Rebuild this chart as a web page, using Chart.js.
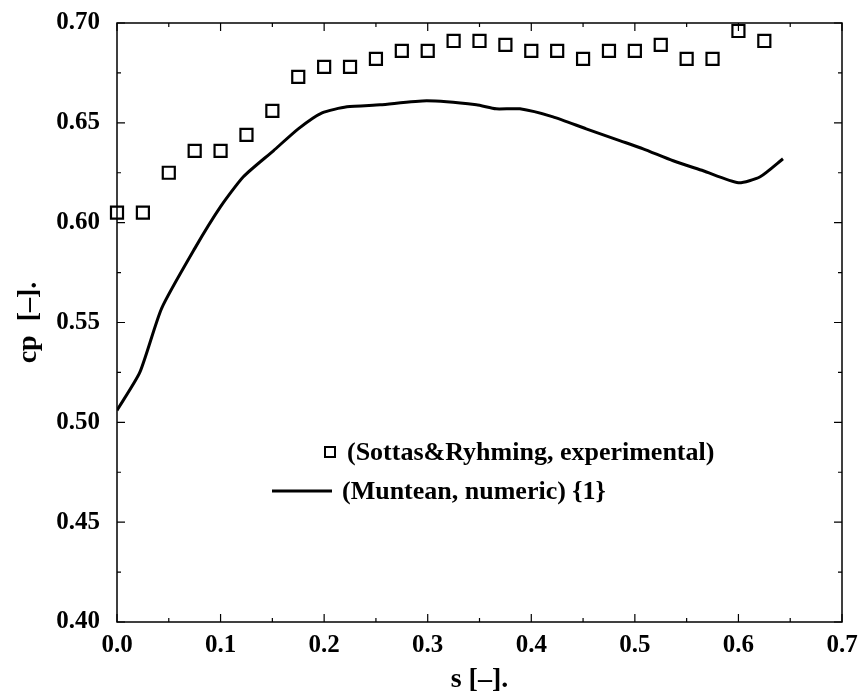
<!DOCTYPE html>
<html>
<head>
<meta charset="utf-8">
<script src="https://cdn.jsdelivr.net/npm/chart.js@4.4.0/dist/chart.umd.min.js"></script>
<style>
  html,body{margin:0;padding:0;background:#fff;}
  #wrap{width:860px;height:691px;}
</style>
</head>
<body>
<div id="wrap"><canvas id="c" width="860" height="691"></canvas></div>
<script>
// experimental points (Sottas & Ryhming)
const expS  = [0.000,0.025,0.050,0.075,0.100,0.125,0.150,0.175,0.200,0.225,0.250,0.275,0.300,
               0.325,0.350,0.375,0.400,0.425,0.450,0.475,0.500,0.525,0.550,0.575,0.600,0.625];
const expCp = [0.605,0.605,0.625,0.636,0.636,0.644,0.656,0.673,0.678,0.678,0.682,0.686,0.686,
               0.691,0.691,0.689,0.686,0.686,0.682,0.686,0.686,0.689,0.682,0.682,0.696,0.691];
// numeric curve (Muntean)
const numS  = [0.000,0.022,0.043,0.075,0.100,0.122,0.151,0.175,0.198,0.222,0.254,0.299,0.347,
               0.366,0.389,0.421,0.453,0.486,0.508,0.537,0.566,0.600,0.621,0.643];
const numCp = [0.506,0.525,0.557,0.587,0.608,0.623,0.636,0.647,0.655,0.658,0.659,0.661,0.659,
               0.657,0.657,0.653,0.647,0.641,0.637,0.631,0.626,0.620,0.623,0.632];
const xTicks = [0.0,0.1,0.2,0.3,0.4,0.5,0.6,0.7];
const yTicks = [0.40,0.45,0.50,0.55,0.60,0.65,0.70];
const labels = ["(Sottas&Ryhming, experimental)", "(Muntean, numeric) {1}"];

const serif = "'Liberation Serif','DejaVu Serif',serif";

const frame = {
  id:"frame",
  afterDraw(chart){
    const ctx = chart.ctx, a = chart.chartArea;
    const xs = chart.scales.x, ys = chart.scales.y;
    ctx.save();
    ctx.strokeStyle = "#000";
    ctx.lineWidth = 1.5;
    ctx.strokeRect(a.left, a.top, a.right - a.left, a.bottom - a.top);
    ctx.lineWidth = 1.2;
    ctx.beginPath();
    for(let v = 0; v <= 0.7001; v += 0.05){
      const px = xs.getPixelForValue(v);
      const len = Math.abs(v*10 - Math.round(v*10)) < 1e-6 ? 8 : 4;
      ctx.moveTo(px, a.bottom); ctx.lineTo(px, a.bottom - len);
      ctx.moveTo(px, a.top); ctx.lineTo(px, a.top + len);
    }
    for(let v = 0.4; v <= 0.7001; v += 0.025){
      const py = ys.getPixelForValue(v);
      const len = Math.abs(v*20 - Math.round(v*20)) < 1e-6 ? 8 : 4;
      ctx.moveTo(a.left, py); ctx.lineTo(a.left + len, py);
      ctx.moveTo(a.right, py); ctx.lineTo(a.right - len, py);
    }
    ctx.stroke();

    // legend inside the plot
    ctx.font = "bold 26px " + serif;
    ctx.fillStyle = "#000";
    ctx.textBaseline = "middle";
    ctx.lineWidth = 2;
    ctx.strokeRect(325, 447, 10, 10);
    ctx.fillText(chart.data.datasets[0].label, 347, 453);
    ctx.lineWidth = 3;
    ctx.beginPath(); ctx.moveTo(272, 491); ctx.lineTo(332, 491); ctx.stroke();
    ctx.fillText(chart.data.datasets[1].label, 342, 492);
    ctx.restore();
  }
};

new Chart(document.getElementById("c").getContext("2d"), {
  type:"scatter",
  data:{ datasets:[
    { label:labels[0], data:expS.map((s,i)=>({x:s, y:expCp[i]})),
      pointStyle:"rect", pointRadius:8.5, pointBorderWidth:2.2, borderColor:"#000",
      backgroundColor:"rgba(0,0,0,0)", showLine:false, clip:false },
    { label:labels[1], data:numS.map((s,i)=>({x:s, y:numCp[i]})),
      showLine:true, pointRadius:0, borderColor:"#000", borderWidth:3, tension:0.2 }
  ]},
  options:{
    responsive:false, animation:false,
    layout:{ padding:{ top:23, right:18, left:0, bottom:0 } },
    plugins:{ legend:{ display:false }, tooltip:{ enabled:false } },
    scales:{
      x:{
        type:"linear", min:0, max:0.7,
        afterBuildTicks(s){ s.ticks = xTicks.map(v=>({value:v})); },
        afterFit(s){ s.height = 69; s.paddingLeft = 0; s.paddingRight = 0; },
        grid:{ display:false, drawTicks:false },
        border:{ display:false },
        ticks:{ padding:9, color:"#000", font:{ family:serif, size:25, weight:"bold" },
                callback:v=>v.toFixed(1) },
        title:{ display:true, text:"s [–].", color:"#000", padding:{top:0,bottom:0},
                font:{ family:serif, size:28, weight:"bold", lineHeight:0.8 } }
      },
      y:{
        type:"linear", min:0.4, max:0.7,
        afterBuildTicks(s){ s.ticks = yTicks.map(v=>({value:v})); },
        afterFit(s){ s.width = 117; s.paddingTop = 0; s.paddingBottom = 0; },
        grid:{ display:false, drawTicks:false },
        border:{ display:false },
        ticks:{ padding:17, color:"#000", font:{ family:serif, size:25, weight:"bold" },
                callback:v=>v.toFixed(2) },
        title:{ display:true, text:"cp  [–].", color:"#000", padding:{top:12,bottom:0},
                font:{ family:serif, size:28, weight:"bold" } }
      }
    }
  },
  plugins:[frame]
});
</script>
</body>
</html>
